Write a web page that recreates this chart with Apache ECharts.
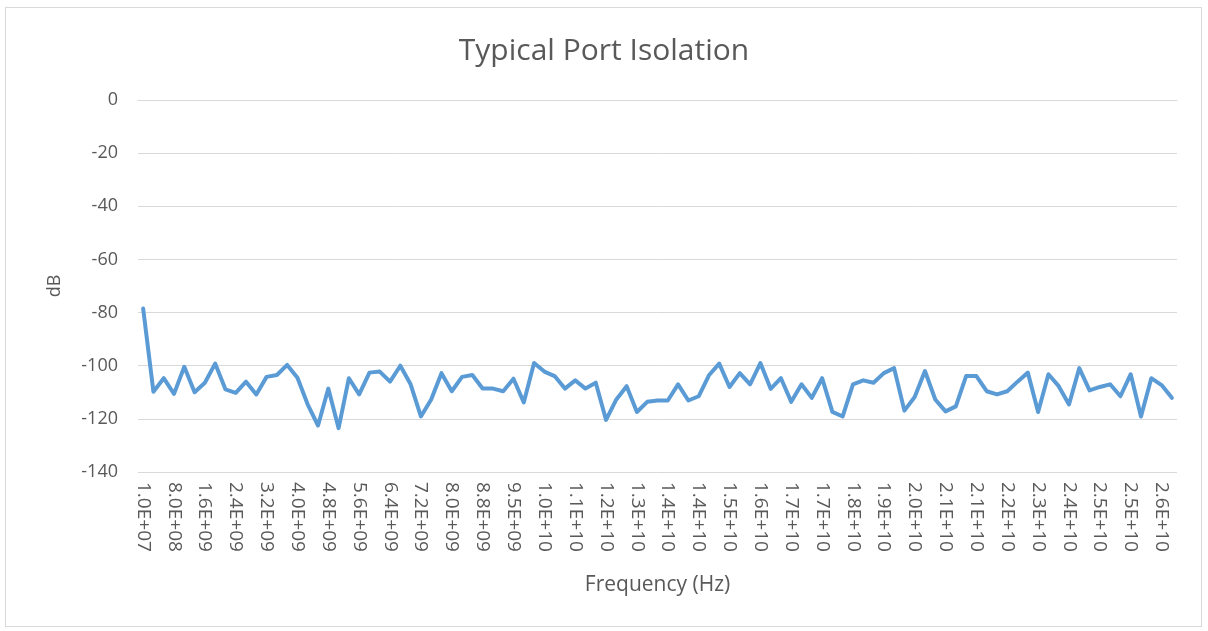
<!DOCTYPE html>
<html>
<head>
<meta charset="utf-8">
<title>Typical Port Isolation</title>
<script src="https://cdn.jsdelivr.net/npm/echarts@6/dist/echarts.min.js"></script>
<style>
  html, body { margin: 0; padding: 0; background: #fff; }
  .chart-box {
    position: absolute; left: 5px; top: 7px; width: 1197px; height: 620px;
    border: 1px solid #d9d9d9; box-sizing: border-box;
  }
  #chart { position: absolute; left: 0; top: 0; width: 1208px; height: 631px; }
</style>
</head>
<body>
<div class="chart-box"></div>
<div id="chart"></div>
<script>
// sweep: 10 MHz to 26.5 GHz, 101 points
const freqStart = 1e7;
const freqStop = 2.65e10;
const pointCount = 101;

// isolation in dB
const isolation = [
  -78.5, -109.8, -104.7, -110.6, -100.4, -110.0, -106.4, -99.2, -108.9, -110.2,
  -106.0, -110.8, -104.2, -103.5, -99.7, -104.5, -114.6, -122.5, -108.6, -123.5,
  -104.7, -110.8, -102.6, -102.2, -106.0, -100.0, -107.0, -119.1, -112.7, -102.8,
  -109.6, -104.2, -103.5, -108.6, -108.6, -109.6, -104.9, -113.8, -99.0, -102.2,
  -103.9, -108.6, -105.5, -108.6, -106.4, -120.4, -112.7, -107.7, -117.4, -113.6,
  -113.1, -113.1, -107.0, -113.1, -111.5, -103.6, -99.2, -108.0, -102.8, -107.0,
  -99.0, -108.7, -104.7, -113.6, -107.0, -112.1, -104.7, -117.4, -119.1, -107.0,
  -105.5, -106.4, -102.8, -100.9, -116.9, -111.8, -102.0, -112.7, -117.2, -115.3,
  -103.9, -103.9, -109.6, -110.8, -109.6, -106.0, -102.6, -117.4, -103.2, -107.7,
  -114.6, -100.9, -109.3, -108.0, -107.0, -111.5, -103.2, -119.1, -104.7, -107.3,
  -112.1
];

// y axis ticks
const yMin = -140;
const yMax = 0;
const yStep = 20;

// Excel style "0.0E+00"
function sci(v) {
  const parts = v.toExponential(1).split('e');
  const exp = parseInt(parts[1], 10);
  return parts[0] + 'E' + (exp < 0 ? '-' : '+') + String(Math.abs(exp)).padStart(2, '0');
}

const freqStep = (freqStop - freqStart) / (pointCount - 1);
const frequencies = [];
for (let i = 0; i < pointCount; i++) frequencies.push(sci(freqStart + i * freqStep));

const textColor = '#595959';
const fontFamily = '"Open Sans", Lato, sans-serif';

const myChart = echarts.init(document.getElementById('chart'));
const option = {
  animation: false,
  textStyle: { fontFamily: fontFamily },
  title: {
    text: 'Typical Port Isolation',
    left: 'center',
    top: 31,
    textStyle: { color: textColor, fontSize: 30, fontWeight: 'normal', fontFamily: fontFamily },
  },
  grid: { left: 138, right: 31, top: 100, bottom: 159 },
  xAxis: {
    type: 'category',
    data: frequencies,
    boundaryGap: true,
    name: 'Frequency (Hz)',
    nameLocation: 'middle',
    nameGap: 103,
    nameTextStyle: { color: textColor, fontSize: 21, fontFamily: fontFamily },
    axisLine: { lineStyle: { color: '#d9d9d9', width: 1 } },
    axisTick: { show: false },
    axisLabel: {
      interval: 2,
      rotate: -90,
      margin: 10,
      color: textColor,
      fontSize: 19,
      fontFamily: fontFamily,
    },
  },
  yAxis: {
    type: 'value',
    min: yMin,
    max: yMax,
    interval: yStep,
    name: 'dB',
    nameLocation: 'middle',
    nameGap: 74,
    nameTextStyle: { color: textColor, fontSize: 18, fontFamily: fontFamily },
    axisLine: { show: false },
    axisTick: { show: false },
    axisLabel: { color: textColor, fontSize: 18, margin: 20, fontFamily: fontFamily },
    splitLine: { lineStyle: { color: '#d9d9d9', width: 1 } },
  },
  series: [
    {
      name: 'Isolation',
      type: 'line',
      data: isolation,
      symbol: 'none',
      smooth: false,
      lineStyle: { color: '#5b9bd5', width: 4, join: 'round', cap: 'round' },
    },
  ],
};
myChart.setOption(option);
</script>
</body>
</html>
